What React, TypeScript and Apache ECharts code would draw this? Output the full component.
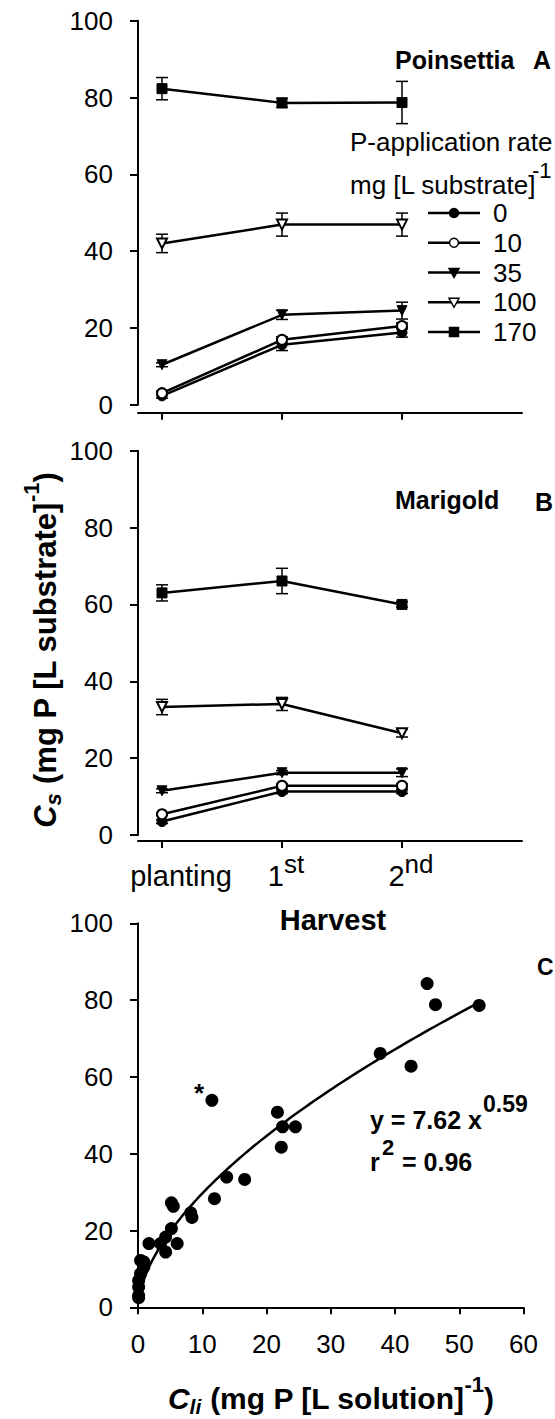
import React, { useEffect, useRef } from 'react';
import * as echarts from 'echarts';

// Harvest stages (x positions on the time axis) and P-application rates
const harvestLabels = ['planting', '1st', '2nd'];
const harvestPos = [0, 1, 2];
const rates = ['0', '10', '35', '100', '170'];
const rateSymbols = ['circle', 'emptyCircle', 'triangle', 'emptyTriangle', 'rect'];
const rateSymbolRotate = [0, 0, 180, 180, 0];

// Poinsettia: substrate P (mg P per L substrate), one row per rate
const poinsettiaMeans = [
  [2.3, 15.6, 18.8],
  [3.0, 16.9, 20.5],
  [10.4, 23.4, 24.5],
  [42.0, 46.9, 46.9],
  [82.3, 78.6, 78.7],
];
const poinsettiaErr = [
  [0.6, 1.5, 1.2],
  [0.5, 0.8, 0.8],
  [0.5, 1.2, 2.2],
  [2.4, 3.0, 3.0],
  [2.9, 1.2, 5.5],
];

// Marigold
const marigoldMeans = [
  [3.5, 11.3, 11.3],
  [5.4, 12.8, 12.8],
  [11.5, 16.2, 16.2],
  [33.3, 34.1, 26.5],
  [63.0, 66.1, 60.0],
];
const marigoldErr = [
  [0.5, 0.5, 0.5],
  [0.3, 0.5, 0.5],
  [0.5, 0.5, 1.0],
  [2.0, 1.7, 1.0],
  [2.1, 3.3, 0.7],
];

// Panel C: P in solution vs. P in substrate
const solutionP = [
  45.0, 46.3, 53.1, 37.7, 42.5, 11.5, 21.7, 22.5, 24.5, 22.3, 13.8, 16.6, 11.9,
  5.2, 5.5, 8.2, 8.4, 5.2, 4.3, 6.1, 4.3, 3.5, 1.7, 0.9, 0.4, 0.9, 0.4, 0.1,
  0.1, 0.1, 0.1,
];
const substrateP = [
  84.3, 78.8, 78.6, 66.1, 62.8, 53.9, 50.8, 47.0, 47.0, 41.7, 33.9, 33.3, 28.3,
  27.2, 26.3, 24.6, 23.4, 20.5, 18.3, 16.6, 14.4, 16.6, 16.6, 11.8, 12.2, 10.5,
  8.8, 7.0, 5.3, 3.1, 2.5,
];

// Power-law fit y = a * x^b
const FIT_A = 7.62;
const FIT_B = 0.59;
const FIT_R2 = 0.96;
const FIT_X_MIN = 0.1;
const FIT_X_MAX = 53.1;

const FONT = '"Liberation Sans", Arial, Helvetica, sans-serif';
const BLACK = '#000';

const errorBarItem = (_params: any, api: any) => {
  const x = api.value(0);
  const y = api.value(1);
  const e = api.value(2);
  const hi = api.coord([x, y + e]);
  const lo = api.coord([x, y - e]);
  const w = 6;
  const style = { stroke: BLACK, lineWidth: 1.5 };
  return {
    type: 'group',
    children: [
      { type: 'line', shape: { x1: hi[0], y1: hi[1], x2: lo[0], y2: lo[1] }, style },
      { type: 'line', shape: { x1: hi[0] - w, y1: hi[1], x2: hi[0] + w, y2: hi[1] }, style },
      { type: 'line', shape: { x1: lo[0] - w, y1: lo[1], x2: lo[0] + w, y2: lo[1] }, style },
    ],
  };
};

const yAxisBase = (gridIndex: number) => ({
  type: 'value',
  gridIndex,
  min: 0,
  max: 100,
  interval: 20,
  axisLine: { show: true, onZero: false, lineStyle: { color: BLACK, width: 2 } },
  axisTick: { show: true, length: 8, lineStyle: { color: BLACK, width: 2 } },
  axisLabel: { fontSize: 26, color: BLACK, fontFamily: FONT, margin: 25 },
  splitLine: { show: false },
});

const harvestAxis = (gridIndex: number, offset: number, showLabels: boolean) => ({
  type: 'value',
  gridIndex,
  min: -0.2,
  max: 3,
  offset,
  axisLine: { show: true, onZero: false, lineStyle: { color: BLACK, width: 2 } },
  axisTick: {
    show: true,
    length: 7,
    customValues: harvestPos,
    lineStyle: { color: BLACK, width: 2 },
  },
  axisLabel: {
    show: showLabels,
    customValues: harvestPos,
    margin: 10,
    formatter: (v: number) => {
      const i = harvestPos.indexOf(v);
      const label = harvestLabels[i];
      const m = label.match(/^(\d+)(\D+)$/);
      if (!m) return `{m${i}|${label}}`;
      return `{m${i}|${m[1]}}{s|${m[2]}}`;
    },
    rich: {
      m0: { fontSize: 29, fontFamily: FONT, color: BLACK, verticalAlign: 'top', padding: [10, 0, 0, 38] },
      m1: { fontSize: 29, fontFamily: FONT, color: BLACK, verticalAlign: 'top', padding: [10, 0, 0, 8] },
      m2: { fontSize: 29, fontFamily: FONT, color: BLACK, verticalAlign: 'top', padding: [10, 0, 0, 18] },
      s: { fontSize: 26, fontFamily: FONT, color: BLACK, verticalAlign: 'top' },
    },
  },
  splitLine: { show: false },
});

function panelSeries(means: number[][], errs: number[][], axisIndex: number) {
  const out: any[] = [];
  rates.forEach((rate, r) => {
    out.push({
      type: 'custom',
      xAxisIndex: axisIndex,
      yAxisIndex: axisIndex,
      renderItem: errorBarItem,
      encode: { x: 0, y: 1 },
      data: means[r].map((v, i) => [harvestPos[i], v, errs[r][i]]),
      silent: true,
      z: 2,
    });
    out.push({
      type: 'line',
      name: rate,
      xAxisIndex: axisIndex,
      yAxisIndex: axisIndex,
      data: means[r].map((v, i) => [harvestPos[i], v]),
      symbol: rateSymbols[r],
      symbolRotate: rateSymbolRotate[r],
      symbolSize: 10,
      showAllSymbol: true,
      lineStyle: { color: BLACK, width: 2.5 },
      itemStyle: { color: BLACK, borderColor: BLACK },
      z: 3,
    });
  });
  return out;
}

function fitCurve() {
  const pts: number[][] = [];
  const n = 120;
  for (let i = 0; i <= n; i++) {
    const t = i / n;
    const x = FIT_X_MIN + (FIT_X_MAX - FIT_X_MIN) * t * t;
    pts.push([x, FIT_A * Math.pow(x, FIT_B)]);
  }
  return pts;
}

const txt = (x: number, y: number, text: string, size: number, bold: boolean, align = 'left') => ({
  type: 'text',
  x,
  y,
  style: {
    text,
    fill: BLACK,
    font: `${bold ? 'bold ' : ''}${size}px ${FONT}`,
    align,
    verticalAlign: 'middle',
  },
});

// Legend key for the P-application rates (line with its marker, then the rate)
function legendKey() {
  const left = 428;
  const right = 480;
  const mid = (left + right) / 2;
  const top = 213;
  const step = 29.75;
  const items: any[] = [];
  rates.forEach((rate, r) => {
    const y = top + r * step;
    const sym = rateSymbols[r];
    const hollow = sym.startsWith('empty');
    const markStyle = { fill: hollow ? '#fff' : BLACK, stroke: BLACK, lineWidth: 1.5 };
    items.push({ type: 'line', shape: { x1: left, y1: y, x2: right, y2: y }, style: { stroke: BLACK, lineWidth: 2.5 } });
    if (sym.endsWith('ircle')) {
      items.push({ type: 'circle', shape: { cx: mid, cy: y, r: 4.5 }, style: markStyle });
    } else if (sym.endsWith('riangle')) {
      items.push({ type: 'polygon', shape: { points: [[mid - 5, y - 4], [mid + 5, y - 4], [mid, y + 5]] }, style: markStyle });
    } else {
      items.push({ type: 'rect', shape: { x: mid - 4.5, y: y - 4.5, width: 9, height: 9 }, style: markStyle });
    }
    items.push(txt(493, y, rate, 26, false));
  });
  return items;
}

export default function App() {
  const ref = useRef<HTMLDivElement>(null);

  useEffect(() => {
    document.body.style.margin = '0';
    if (!ref.current) return;
    const chart = echarts.init(ref.current, null, { renderer: 'svg' });

    const option: any = {
      animation: false,
      backgroundColor: '#fff',
      textStyle: { fontFamily: FONT },
      grid: [
        { left: 138, top: 20.7, width: 384, height: 384 },
        { left: 138, top: 450.7, width: 384, height: 384.3 },
        { left: 138, top: 923.3, width: 385.5, height: 384 },
      ],
      xAxis: [
        harvestAxis(0, 8, false),
        harvestAxis(1, 6, true),
        {
          type: 'value',
          gridIndex: 2,
          min: 0,
          max: 60,
          interval: 10,
          axisLine: { show: true, onZero: false, lineStyle: { color: BLACK, width: 2 } },
          axisTick: { show: true, length: 7, lineStyle: { color: BLACK, width: 2 } },
          axisLabel: { fontSize: 26, color: BLACK, fontFamily: FONT, margin: 24 },
          splitLine: { show: false },
        },
      ],
      yAxis: [yAxisBase(0), yAxisBase(1), yAxisBase(2)],
      series: [
        ...panelSeries(poinsettiaMeans, poinsettiaErr, 0),
        ...panelSeries(marigoldMeans, marigoldErr, 1),
        {
          type: 'line',
          xAxisIndex: 2,
          yAxisIndex: 2,
          data: fitCurve(),
          showSymbol: false,
          symbol: 'none',
          lineStyle: { color: BLACK, width: 2.5 },
          z: 2,
        },
        {
          type: 'scatter',
          xAxisIndex: 2,
          yAxisIndex: 2,
          data: solutionP.map((x, i) => [x, substrateP[i]]),
          symbolSize: 13,
          itemStyle: { color: BLACK, opacity: 1 },
          z: 3,
        },
      ],
      graphic: [
        txt(395, 60, 'Poinsettia', 25, true),
        txt(533, 60, 'A', 25, true),
        txt(350, 142, 'P-application rate', 26, false),
        txt(350, 185, 'mg [L substrate]', 26, false),
        txt(532, 170, '-1', 22, false),
        ...legendKey(),
        txt(395, 500, 'Marigold', 25, true),
        txt(535, 502, 'B', 25, true),
        txt(333, 920, 'Harvest', 29, true, 'center'),
        txt(537, 967, 'C', 23, true),
        txt(199, 1093, '*', 26, true, 'center'),
        txt(370, 1120, `y = ${FIT_A.toFixed(2)} x`, 25, true),
        txt(483, 1104, FIT_B.toFixed(2), 23, true),
        txt(370, 1162, 'r', 25, true),
        txt(382, 1147, '2', 22, true),
        txt(402, 1162, `= ${FIT_R2.toFixed(2)}`, 25, true),
        {
          type: 'text',
          x: 331,
          y: 1395,
          style: {
            text: '{c|C}{sub|li}{t| (mg P [L solution]}{sup|-1}{t|)}',
            align: 'center',
            verticalAlign: 'middle',
            rich: {
              c: { font: `italic bold 30px ${FONT}`, fill: BLACK, verticalAlign: 'top', padding: [10, 0, 0, 0] },
              sub: { font: `italic bold 21px ${FONT}`, fill: BLACK, verticalAlign: 'top', padding: [22, 0, 0, 0] },
              t: { font: `bold 30px ${FONT}`, fill: BLACK, verticalAlign: 'top', padding: [10, 0, 0, 0] },
              sup: { font: `bold 22px ${FONT}`, fill: BLACK, verticalAlign: 'top' },
            },
          },
        },
        {
          type: 'text',
          x: 42,
          y: 650,
          rotation: Math.PI / 2,
          style: {
            text: '{c|C}{sub|s}{t| (mg P [L substrate]}{sup|-1}{t|)}',
            align: 'center',
            verticalAlign: 'middle',
            rich: {
              c: { font: `italic bold 31px ${FONT}`, fill: BLACK, verticalAlign: 'top', padding: [10, 0, 0, 0] },
              sub: { font: `italic bold 22px ${FONT}`, fill: BLACK, verticalAlign: 'top', padding: [22, 0, 0, 0] },
              t: { font: `bold 31px ${FONT}`, fill: BLACK, verticalAlign: 'top', padding: [10, 0, 0, 0] },
              sup: { font: `bold 22px ${FONT}`, fill: BLACK, verticalAlign: 'top' },
            },
          },
        },
      ],
    };

    chart.setOption(option);
    return () => chart.dispose();
  }, []);

  return <div ref={ref} style={{ width: 555, height: 1419 }} />;
}
